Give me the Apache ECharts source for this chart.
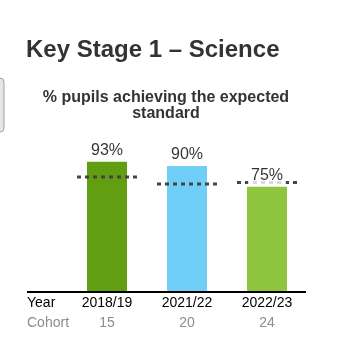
<!DOCTYPE html>
<html>
<head>
<meta charset="utf-8">
<script src="https://cdn.jsdelivr.net/npm/echarts@6/dist/echarts.min.js"></script>
<style>
html, body { margin: 0; padding: 0; background: #fff; }
#chart { width: 362px; height: 354px; }
</style>
</head>
<body>
<div id="chart"></div>
<script>
var years = ["2018/19", "2021/22", "2022/23"];
var cohorts = [15, 20, 24];
var pupils = [93, 90, 75];
var national = [82, 77, 78];
var barColors = ["#619e12", "#6fcff7", "#8fc63f"];

var font = "Arial, 'Liberation Sans', sans-serif";
var chart = echarts.init(document.getElementById("chart"));

chart.setOption({
    animation: false,
    grid: {left: 67, right: 55, top: 152, bottom: 63},
    xAxis: {
        type: "category",
        data: years,
        axisLine: {show: false},
        axisTick: {show: false},
        axisLabel: {
            margin: 2,
            formatter: function (v, i) {
                return "{y|" + v + "}\n{c|" + cohorts[i] + "}";
            },
            rich: {
                y: {fontFamily: font, fontSize: 14, color: "#000", lineHeight: 20},
                c: {fontFamily: font, fontSize: 14, color: "#8c8c8c", lineHeight: 20}
            }
        }
    },
    yAxis: {type: "value", min: 0, max: 100, show: false, splitLine: {show: false}},
    series: [{
        type: "bar",
        z: 2,
        barWidth: 40,
        data: pupils.map(function (v, i) {
            return {value: v, itemStyle: {color: barColors[i]}};
        })
    }, {
        type: "custom",
        z: 3,
        data: national.map(function (v, i) { return [i, v]; }),
        renderItem: function (params, api) {
            var p = api.coord([api.value(0), api.value(1)]);
            var w = api.size([1, 0])[0] * 0.75;
            return {
                type: "line",
                shape: {x1: p[0] - w / 2, y1: p[1], x2: p[0] + w / 2, y2: p[1]},
                style: {stroke: "#444", lineWidth: 3, lineDash: [4, 4]}
            };
        }
    }, {
        type: "scatter",
        z: 4,
        symbolSize: 0,
        data: pupils,
        label: {
            show: true,
            position: "top",
            distance: 2,
            formatter: "{c}%",
            fontFamily: font,
            fontSize: 16,
            color: "#000",
            backgroundColor: "#fff",
            padding: [1, 3]
        }
    }],
    graphic: [{
        type: "rect",
        shape: {x: -20, y: 78, width: 24, height: 54, r: 4},
        style: {fill: "#e6e6e6", stroke: "#a0a0a0", lineWidth: 1}
    }, {
        type: "text",
        x: 26, y: 50,
        style: {text: "Key Stage 1 \u2013 Science", font: "bold 24px " + font, fill: "#333",
            verticalAlign: "middle"}
    }, {
        type: "text",
        x: 166, y: 105.5,
        style: {text: "% pupils achieving the expected\nstandard", font: "bold 16px " + font,
            fill: "#333", align: "center", verticalAlign: "middle", lineHeight: 16}
    }, {
        type: "line",
        shape: {x1: 27, y1: 292, x2: 306, y2: 292},
        style: {stroke: "#000", lineWidth: 2}
    }, {
        type: "text",
        x: 27, y: 303,
        style: {text: "Year", font: "14px " + font, fill: "#000", verticalAlign: "middle"}
    }, {
        type: "text",
        x: 27, y: 323,
        style: {text: "Cohort", font: "14px " + font, fill: "#8c8c8c", verticalAlign: "middle"}
    }]
});
</script>
</body>
</html>
